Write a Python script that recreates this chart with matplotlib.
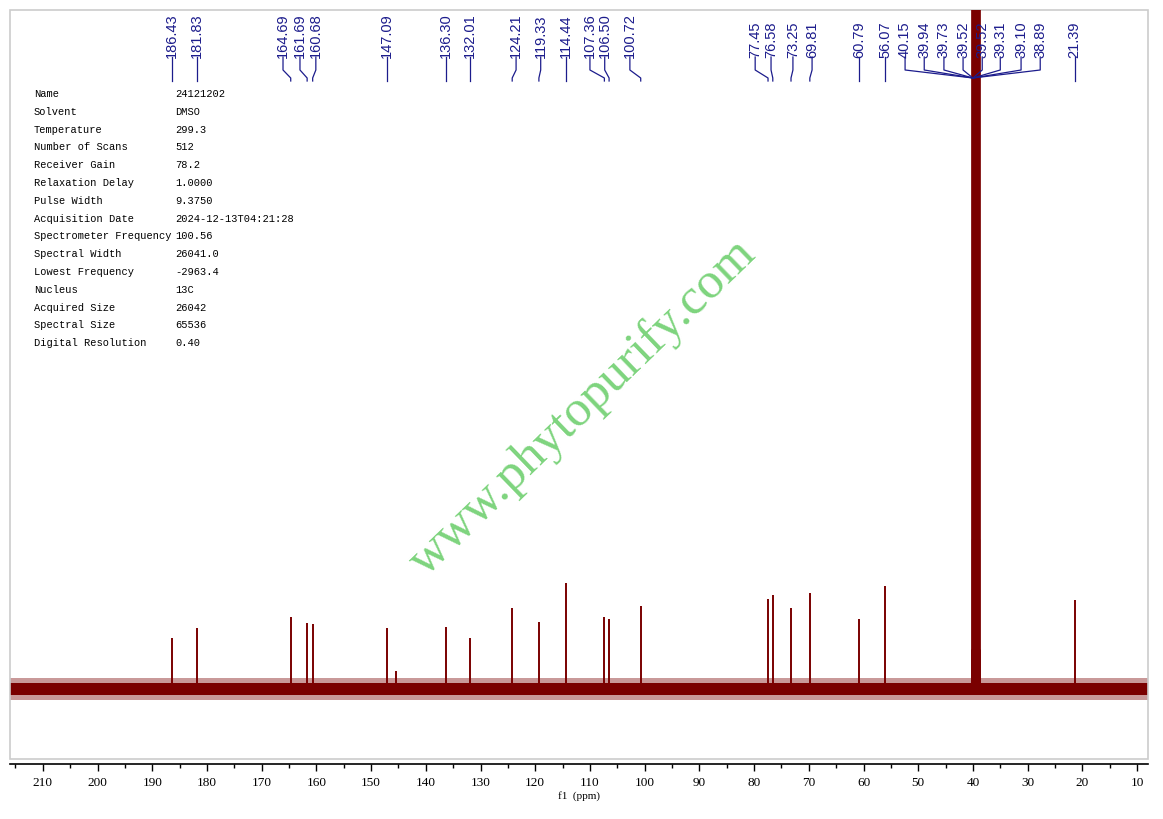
import matplotlib
matplotlib.use("Agg")
import matplotlib.pyplot as plt
from matplotlib.patches import Rectangle

# peak positions (ppm) and heights (arbitrary units above baseline)
peak_ppm = [186.43, 181.83, 164.69, 161.69, 160.68, 147.09, 145.5, 136.30, 132.01,
            124.21, 119.33, 114.44, 107.36, 106.50, 100.72, 77.45, 76.58, 73.25,
            69.81, 60.79, 56.07, 21.39]
peak_height = [51, 61, 72, 66, 65, 61, 18, 62, 51,
               81, 67, 106, 72, 70, 83, 90, 94, 81,
               96, 70, 103, 89]

# DMSO-d6 septet
dmso_ppm = [40.15, 39.94, 39.73, 39.52, 39.31, 39.10, 38.89]
dmso_height = [40, 150, 278, 720, 278, 150, 40]

# peak labels printed on top, and where each label text sits (ppm)
label_text = ["186.43", "181.83", "164.69", "161.69", "160.68", "147.09", "136.30", "132.01",
              "124.21", "119.33", "114.44", "107.36", "106.50", "100.72", "77.45", "76.58",
              "73.25", "69.81", "60.79", "56.07", "40.15", "39.94", "39.73", "39.52",
              "39.52", "39.31", "39.10", "38.89", "21.39"]
label_peak = [186.43, 181.83, 164.69, 161.69, 160.68, 147.09, 136.30, 132.01,
              124.21, 119.33, 114.44, 107.36, 106.50, 100.72, 77.45, 76.58,
              73.25, 69.81, 60.79, 56.07, 40.0, 40.0, 40.0, 40.0,
              40.0, 40.0, 40.0, 40.0, 21.39]
label_pos = [186.43, 181.83, 166.1, 163.0, 160.1, 147.09, 136.30, 132.01,
             123.5, 119.0, 114.44, 110.0, 107.3, 102.7, 79.8, 76.9,
             72.9, 69.4, 60.79, 56.07, 52.4, 48.9, 45.3, 41.8,
             38.3, 35.0, 31.2, 27.7, 21.39]

param_names = ["Name", "Solvent", "Temperature", "Number of Scans", "Receiver Gain",
               "Relaxation Delay", "Pulse Width", "Acquisition Date",
               "Spectrometer Frequency", "Spectral Width", "Lowest Frequency",
               "Nucleus", "Acquired Size", "Spectral Size", "Digital Resolution"]
param_values = ["24121202", "DMSO", "299.3", "512", "78.2", "1.0000", "9.3750",
                "2024-12-13T04:21:28", "100.56", "26041.0", "-2963.4", "13C",
                "26042", "65536", "0.40"]

noise_level = 6

W, H = 1163, 820
fig = plt.figure(figsize=(W / 100, H / 100), dpi=100)
top_px, bot_px = 11, 765
ax = fig.add_axes([10 / W, 1 - bot_px / H, 1138 / W, (bot_px - top_px) / H])

base_px = 690
ax.set_xlim(216.0, 8.0)
ax.set_ylim(-(bot_px - base_px), base_px - top_px)

spec_color = "#7a0000"
ax.fill_between([216, 8], -noise_level - 5, noise_level + 5, color=spec_color, alpha=0.4, lw=0)
ax.fill_between([216, 8], -noise_level, noise_level, color=spec_color, lw=0)
ax.vlines(peak_ppm, 0, peak_height, color=spec_color, lw=1.4)
dmso_w = [2, 2.5, 3, 7, 3, 2.5, 2]
for p, h, w in zip(dmso_ppm, dmso_height, dmso_w):
    ax.vlines(p, 0, h, color=spec_color, lw=w)

# frame
frame_bottom = (bot_px - 760) / (bot_px - top_px)
ax.add_patch(Rectangle((0, frame_bottom), 1, 1 - frame_bottom, transform=ax.transAxes,
                       fill=False, ec="#cccccc", lw=1.2, clip_on=False))

for s in ["top", "left", "right"]:
    ax.spines[s].set_visible(False)
ax.spines["bottom"].set_color("black")
ax.spines["bottom"].set_linewidth(1.2)
ax.set_yticks([])
ax.set_xticks(range(210, 5, -10))
ax.set_xticks(range(215, 5, -10), minor=True)
ax.tick_params(axis="x", which="major", length=5, width=1, labelsize=9.5, pad=4)
ax.tick_params(axis="x", which="minor", length=3, width=1)
for lab in ax.get_xticklabels():
    lab.set_fontfamily("Liberation Serif")
ax.set_xlabel("f1  (ppm)", fontsize=8, family="Liberation Serif", labelpad=1)

# peak labels with connectors
lbl_color = "#1c1c8c"
def py(px):
    return base_px - px

for txt, pk, pos in zip(label_text, label_peak, label_pos):
    if pk == 40.0:
        ax.plot([pos, pos, pk], [py(58), py(71), py(79)], color=lbl_color, lw=0.9, clip_on=False)
    else:
        ax.plot([pos, pos, pk, pk], [py(58), py(71), py(79), py(82)], color=lbl_color, lw=0.9,
                clip_on=False)
    ax.text(pos, py(58), txt, rotation=90, ha="center", va="bottom", fontsize=10.5,
            family="Liberation Sans", color=lbl_color, clip_on=False)

# parameter table
for i, (n, v) in enumerate(zip(param_names, param_values)):
    yy = 94 + i * 17.8
    fig.text(34 / W, 1 - yy / H, n, fontsize=7.5, family="Liberation Mono", va="center", color="black")
    fig.text(175 / W, 1 - yy / H, v, fontsize=7.5, family="Liberation Mono", va="center", color="black")

# watermark
fig.text(583 / W, 1 - 408 / H, "www.phytopurify.com", rotation=44, fontsize=37,
         family="Liberation Serif", color="#6fcf6f", ha="center", va="center", alpha=0.9)

fig.savefig("out.png", dpi=100)
